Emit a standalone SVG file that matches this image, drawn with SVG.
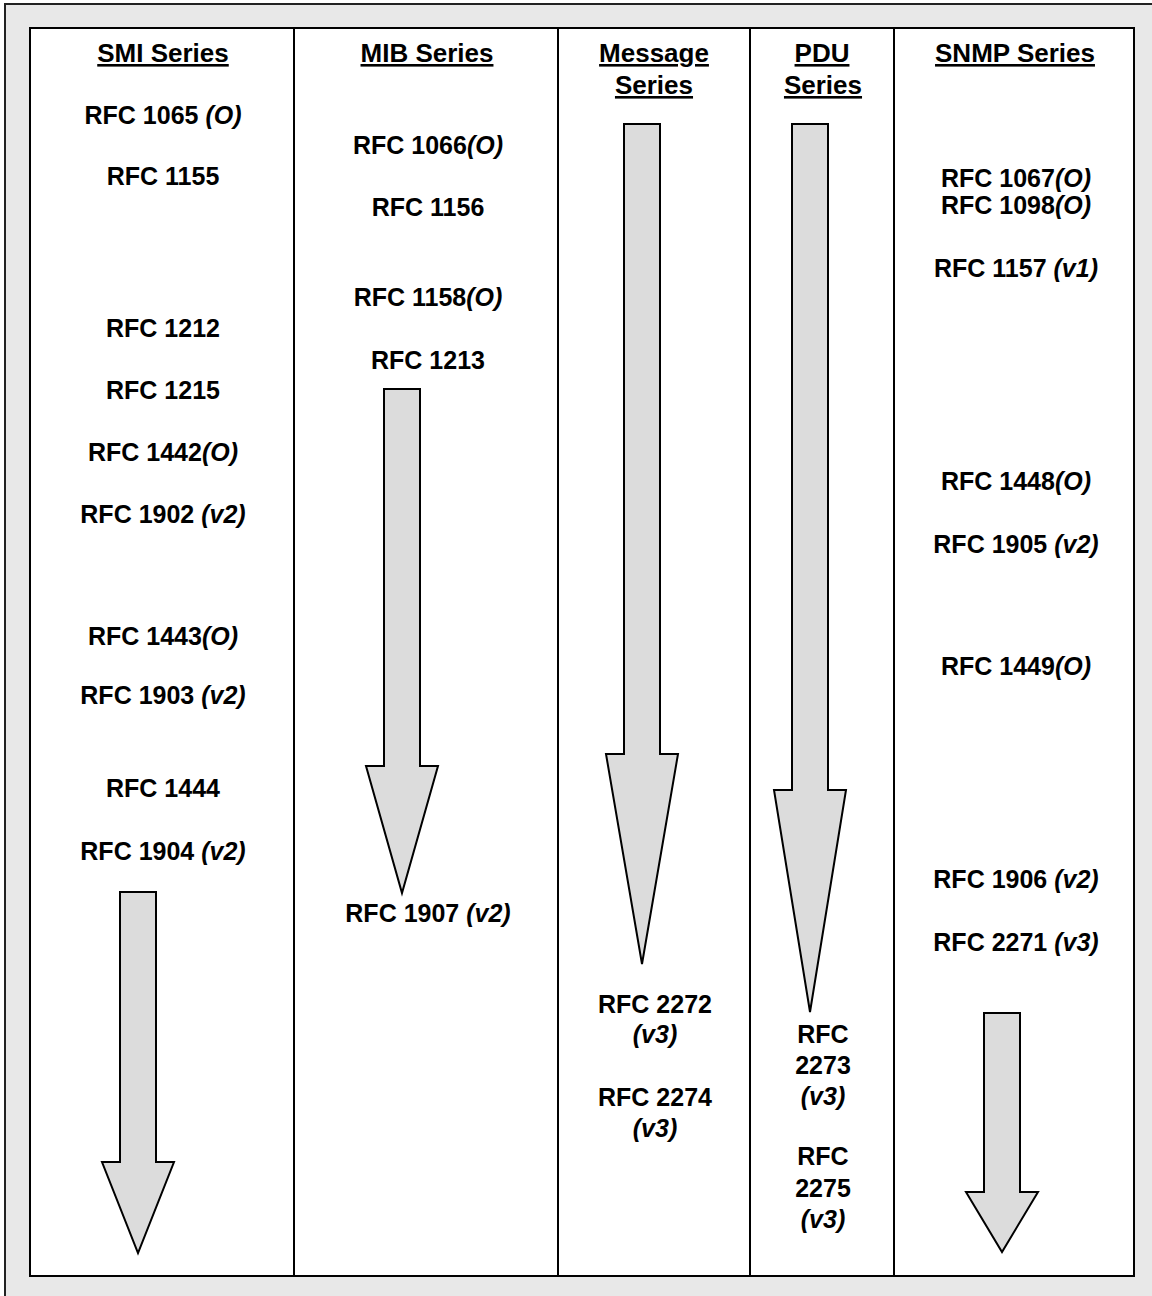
<svg xmlns="http://www.w3.org/2000/svg" width="1152" height="1296" viewBox="0 0 1152 1296">
<style>
text{font-family:"Liberation Sans",Arial,sans-serif;font-weight:bold;fill:#000;text-anchor:middle}
.h{font-size:26px;text-decoration:underline}
.t{font-size:25px}
.i{font-style:italic}
.arrow{fill:#dcdcdc;stroke:#000;stroke-width:2;stroke-linejoin:miter}
.div{stroke:#000;stroke-width:2}
</style>
<rect x="5" y="4" width="1160" height="1310" fill="#e8e8e8" stroke="#222" stroke-width="2"/>
<rect x="30" y="28" width="1104" height="1248" fill="#fff" stroke="#000" stroke-width="2"/>
<g id="dividers">
<line class="div" x1="294" y1="28" x2="294" y2="1276"/>
<line class="div" x1="558" y1="28" x2="558" y2="1276"/>
<line class="div" x1="750" y1="28" x2="750" y2="1276"/>
<line class="div" x1="894" y1="28" x2="894" y2="1276"/>
</g>
<g id="connectors">
<polygon class="arrow" points="120,892 156,892 156,1162 174,1162 138,1253 102,1162 120,1162"/>
<polygon class="arrow" points="384,389 420,389 420,766 438,766 402,893 366,766 384,766"/>
<polygon class="arrow" points="624,124 660,124 660,754 678,754 642,964 606,754 624,754"/>
<polygon class="arrow" points="792,124 828,124 828,790 846,790 810,1012 774,790 792,790"/>
<polygon class="arrow" points="984,1013 1020,1013 1020,1192 1038,1192 1002,1252 966,1192 984,1192"/>
</g>
<g id="col-smi">
<text class="h" x="163" y="62">SMI Series</text>
<text class="t" x="163" y="124">RFC 1065 <tspan class="i">(O)</tspan></text>
<text class="t" x="163" y="185">RFC 1155</text>
<text class="t" x="163" y="337">RFC 1212</text>
<text class="t" x="163" y="399">RFC 1215</text>
<text class="t" x="163" y="461">RFC 1442<tspan class="i">(O)</tspan></text>
<text class="t" x="163" y="523">RFC 1902 <tspan class="i">(v2)</tspan></text>
<text class="t" x="163" y="645">RFC 1443<tspan class="i">(O)</tspan></text>
<text class="t" x="163" y="704">RFC 1903 <tspan class="i">(v2)</tspan></text>
<text class="t" x="163" y="797">RFC 1444</text>
<text class="t" x="163" y="860">RFC 1904 <tspan class="i">(v2)</tspan></text>
</g>
<g id="col-mib">
<text class="h" x="427" y="62">MIB Series</text>
<text class="t" x="428" y="154">RFC 1066<tspan class="i">(O)</tspan></text>
<text class="t" x="428" y="216">RFC 1156</text>
<text class="t" x="428" y="306">RFC 1158<tspan class="i">(O)</tspan></text>
<text class="t" x="428" y="369">RFC 1213</text>
<text class="t" x="428" y="922">RFC 1907 <tspan class="i">(v2)</tspan></text>
</g>
<g id="col-message">
<text class="h" x="654" y="62">Message</text>
<text class="h" x="654" y="94">Series</text>
<text class="t" x="655" y="1013">RFC 2272</text>
<text class="t i" x="655" y="1043">(v3)</text>
<text class="t" x="655" y="1106">RFC 2274</text>
<text class="t i" x="655" y="1137">(v3)</text>
</g>
<g id="col-pdu">
<text class="h" x="822" y="62">PDU</text>
<text class="h" x="823" y="94">Series</text>
<text class="t" x="823" y="1043">RFC</text>
<text class="t" x="823" y="1074">2273</text>
<text class="t i" x="823" y="1105">(v3)</text>
<text class="t" x="823" y="1165">RFC</text>
<text class="t" x="823" y="1197">2275</text>
<text class="t i" x="823" y="1228">(v3)</text>
</g>
<g id="col-snmp">
<text class="h" x="1015" y="62">SNMP Series</text>
<text class="t" x="1016" y="187">RFC 1067<tspan class="i">(O)</tspan></text>
<text class="t" x="1016" y="214">RFC 1098<tspan class="i">(O)</tspan></text>
<text class="t" x="1016" y="277">RFC 1157 <tspan class="i">(v1)</tspan></text>
<text class="t" x="1016" y="490">RFC 1448<tspan class="i">(O)</tspan></text>
<text class="t" x="1016" y="553">RFC 1905 <tspan class="i">(v2)</tspan></text>
<text class="t" x="1016" y="675">RFC 1449<tspan class="i">(O)</tspan></text>
<text class="t" x="1016" y="888">RFC 1906 <tspan class="i">(v2)</tspan></text>
<text class="t" x="1016" y="951">RFC 2271 <tspan class="i">(v3)</tspan></text>
</g>
</svg>
